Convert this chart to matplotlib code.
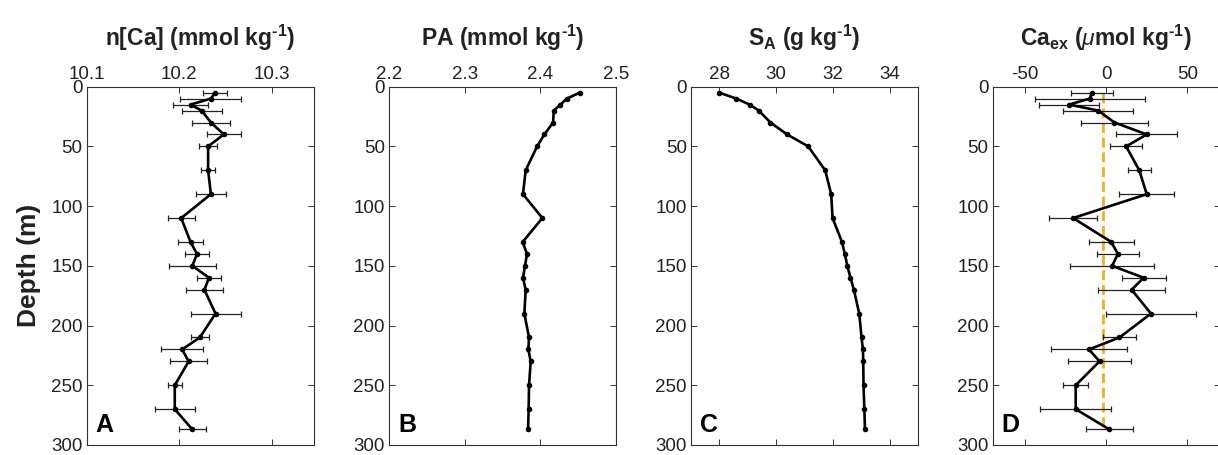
import matplotlib
matplotlib.use('Agg')
import matplotlib.pyplot as plt
import numpy as np

plt.rcParams['font.family'] = ['Liberation Sans', 'DejaVu Sans']
plt.rcParams['mathtext.fontset'] = 'custom'
plt.rcParams['mathtext.rm'] = 'Liberation Sans:bold'
plt.rcParams['mathtext.bf'] = 'Liberation Sans:bold'
plt.rcParams['mathtext.it'] = 'Liberation Sans:italic'

# depth of each sample (m)
depth = [5, 10, 15, 20, 30, 40, 50, 70, 90, 110, 130, 140, 150, 160, 170,
         190, 210, 220, 230, 250, 270, 287]

# n[Ca] (mmol/kg) and its uncertainty
nca = [10.2385, 10.234, 10.212, 10.224, 10.234, 10.248, 10.231, 10.231, 10.234,
       10.202, 10.212, 10.219, 10.214, 10.232, 10.227, 10.239, 10.222, 10.203,
       10.210, 10.195, 10.195, 10.214]
nca_err = [0.0133, 0.033, 0.0187, 0.0216, 0.0205, 0.0185, 0.0099, 0.0072, 0.0165,
           0.0146, 0.0137, 0.0126, 0.0255, 0.0131, 0.020, 0.027, 0.010, 0.023,
           0.0196, 0.0074, 0.0218, 0.0147]

# PA (mmol/kg)
pa = [2.452, 2.435, 2.4265, 2.4177, 2.4168, 2.4053, 2.3956, 2.3806, 2.3770,
      2.4026, 2.3766, 2.3823, 2.3797, 2.3770, 2.3806, 2.3788, 2.3850, 2.3841,
      2.3872, 2.3850, 2.3845, 2.3837]

# absolute salinity (g/kg)
sa = [28.0, 28.6, 29.07, 29.39, 29.8, 30.39, 31.13, 31.73, 31.94, 31.99, 32.32,
      32.42, 32.51, 32.62, 32.74, 32.93, 33.01, 33.06, 33.07, 33.08, 33.11, 33.13]

# Ca excess (umol/kg) and its uncertainty
caex = [-8.8, -10.2, -22.9, -4.9, 5.1, 25.0, 12.3, 20.4, 25.0, -20.4, 3.1, 7.2,
        3.7, 23.1, 15.7, 27.6, 8.2, -10.6, -4.1, -18.8, -18.8, 2.0]
caex_err = [13.1, 34.0, 18.7, 21.5, 20.7, 18.7, 9.8, 7.2, 16.9, 14.8, 13.8, 12.8,
            26.0, 13.6, 20.7, 27.6, 10.1, 23.2, 19.7, 7.8, 21.8, 14.6]
caex_mean = -2.0

fig = plt.figure(figsize=(12.18, 4.55), dpi=100)

lefts = [0.0712, 0.3194, 0.5673, 0.8150]
w, h, b = 0.1864, 0.7875, 0.022

titles = [r'n[Ca] (mmol kg$^{\text{-}\mathbf{1}}$)',
          r'PA (mmol kg$^{\text{-}\mathbf{1}}$)',
          r'S$_{\mathbf{A}}$ (g kg$^{\text{-}\mathbf{1}}$)',
          r'Ca$_{\mathbf{ex}}$ ($\mu$mol kg$^{\text{-}\mathbf{1}}$)']
letters = ['A', 'B', 'C', 'D']
xlims = [(10.1, 10.345), (2.2, 2.5), (27, 35), (-70, 70)]
xticks = [[10.1, 10.2, 10.3], [2.2, 2.3, 2.4, 2.5], [28, 30, 32, 34], [-50, 0, 50]]
xticklabels = [['10.1', '10.2', '10.3'], ['2.2', '2.3', '2.4', '2.5'],
               ['28', '30', '32', '34'], ['-50', '0', '50']]

axes = []
for i in range(4):
    ax = fig.add_axes([lefts[i], b, w, h])
    axes.append(ax)

kw = dict(color='k', lw=1.9, marker='o', ms=3.0, capsize=2.5, elinewidth=0.9,
          ecolor='#222222', capthick=0.9)
axes[0].errorbar(nca, depth, xerr=nca_err, **kw)
axes[1].plot(pa, depth, 'k-', lw=1.9, marker='o', ms=3.0)
axes[2].plot(sa, depth, 'k-', lw=1.9, marker='o', ms=3.0)
axes[3].plot([caex_mean, caex_mean], [depth[0], depth[-1]], '--', color='#EDB120',
             lw=2, dashes=(3.6, 1.7))
axes[3].errorbar(caex, depth, xerr=caex_err, **kw)

for i, ax in enumerate(axes):
    ax.set_xlim(*xlims[i])
    ax.set_ylim(300, 0)
    ax.set_yticks(range(0, 301, 50))
    ax.set_xticks(xticks[i])
    ax.set_xticklabels(xticklabels[i])
    ax.xaxis.tick_top()
    ax.xaxis.set_label_position('top')
    ax.tick_params(direction='in', top=True, bottom=True, left=True, right=True,
                   labelsize=13.5, length=4, width=0.7, color='#333333',
                   labelcolor='#222222', pad=3)
    for s in ax.spines.values():
        s.set_linewidth(0.8)
        s.set_color('#333333')
    ax.set_xlabel(titles[i], fontsize=16.5, fontweight='bold', labelpad=14,
                  color='#222222')
    ax.text(0.04, 0.022, letters[i], transform=ax.transAxes, fontsize=18,
            fontweight='bold', ha='left', va='bottom')

axes[0].set_ylabel('Depth (m)', fontsize=19, fontweight='bold', labelpad=7,
                   color='#222222')

fig.savefig('out.png', dpi=100)
